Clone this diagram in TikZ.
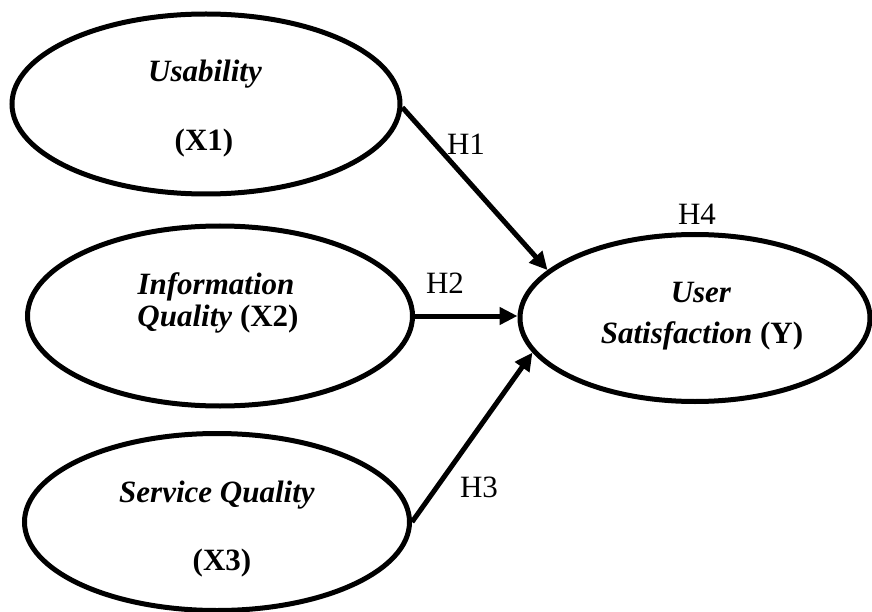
\documentclass[tikz,border=0pt]{standalone}
\usepackage{fontspec}
\setmainfont{Liberation Serif}
\usetikzlibrary{shapes.geometric,arrows.meta}
\begin{document}
\begin{tikzpicture}[x=1pt,y=1pt,
  construct/.style={ellipse, draw, line width=5pt, inner sep=0pt},
  txt/.style={font=\fontsize{31}{34}\selectfont, anchor=base, inner sep=0pt},
  path arrow/.style={line width=5pt, -{Triangle[length=18pt,width=17pt]}}]
\useasboundingbox (0,0) rectangle (872,-612);

% latent constructs
\node[construct, minimum width=388pt, minimum height=180pt] (x1) at (206,-104) {};
\node[construct, minimum width=385pt, minimum height=180pt] (x2) at (220,-316) {};
\node[construct, minimum width=385pt, minimum height=177pt] (x3) at (217,-522) {};
\node[construct, minimum width=350pt, minimum height=167pt] (y) at (695,-318) {};

% construct names
\node[txt] (t1a) at (205,-82) {\textbf{\textit{Usability}}};
\node[txt] (t1b) at (204,-151) {\textbf{(X1)}};
\node[txt] (t2a) at (216,-294) {\textbf{\textit{Information}}};
\node[txt] (t2b) at (218,-326) {\textbf{\textit{Quality} (X2)}};
\node[txt] (t3a) at (217,-502) {\textbf{\textit{Service Quality}}};
\node[txt] (t3b) at (222,-570) {\textbf{(X3)}};
\node[txt] (t4a) at (701,-302) {\textbf{\textit{User}}};
\node[txt] (t4b) at (702,-343) {\textbf{\textit{Satisfaction} (Y)}};

% hypotheses
\draw[path arrow] (x1.-1) -- (y.162);
\draw[path arrow] (x2.east) -- (x2.east -| y.west);
\draw[path arrow] (x3.east) -- (y.192);

\node[txt] (h1) at (466,-155) {H1};
\node[txt] (h2) at (445,-293) {H2};
\node[txt] (h3) at (479,-497) {H3};
\node[txt] (h4) at (697,-225) {H4};
\end{tikzpicture}
\end{document}
